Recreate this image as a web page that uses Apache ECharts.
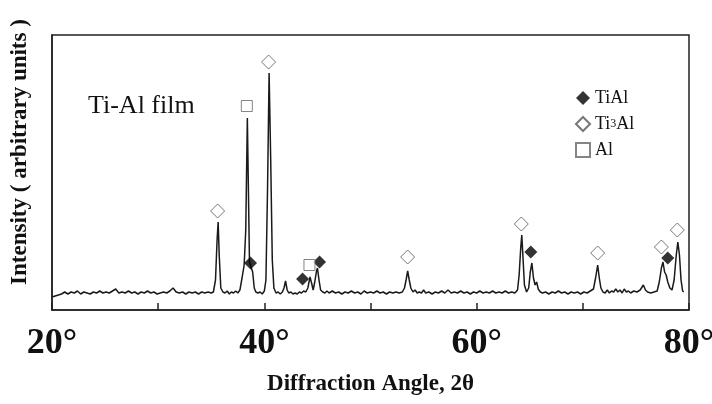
<!DOCTYPE html>
<html>
<head>
<meta charset="utf-8">
<title>Ti-Al film XRD</title>
<script src="https://cdn.jsdelivr.net/npm/echarts/dist/echarts.min.js"></script>
<style>
    html, body { margin: 0; padding: 0; background: #fff; }
    #xrdChart { width: 712px; height: 404px; }
</style>
</head>
<body>
<div id="xrdChart"></div>
<script>
// XRD scan: [2theta, intensity]
const scan = [
    [20.0, 13], [20.3, 14], [20.6, 15], [20.9, 16], [21.2, 18], [21.5, 16], [21.8, 18], [22.1, 17],
    [22.4, 19], [22.7, 16], [23.0, 18], [23.3, 17], [23.6, 16], [23.9, 18], [24.2, 17], [24.5, 19],
    [24.8, 17], [25.1, 18], [25.4, 17], [25.7, 19], [26.0, 21], [26.3, 17], [26.6, 18], [26.9, 17],
    [27.2, 19], [27.5, 17], [27.8, 18], [28.1, 16], [28.4, 18], [28.7, 17], [29.0, 19], [29.3, 17],
    [29.6, 18], [29.9, 16], [30.2, 17], [30.5, 18], [30.8, 17], [31.1, 19], [31.4, 22], [31.7, 18],
    [32.0, 17], [32.3, 18], [32.6, 16], [32.9, 18], [33.2, 17], [33.5, 18], [33.8, 16], [34.1, 18],
    [34.4, 17], [34.7, 18], [35.0, 17], [35.2, 18], [35.4, 30], [35.55, 70], [35.65, 88], [35.75, 55],
    [35.9, 22], [36.1, 18], [36.3, 17], [36.5, 19], [36.7, 16], [36.9, 18], [37.1, 17], [37.3, 19],
    [37.5, 17], [37.7, 20], [37.9, 32], [38.1, 45], [38.25, 80], [38.4, 192], [38.5, 120], [38.6, 48],
    [38.75, 46], [38.9, 38], [39.05, 22], [39.2, 18], [39.4, 17], [39.6, 18], [39.8, 16], [40.0, 19],
    [40.15, 30], [40.3, 120], [40.45, 237], [40.6, 150], [40.75, 50], [40.9, 22], [41.1, 17], [41.3, 18],
    [41.5, 16], [41.7, 18], [41.85, 22], [42.0, 29], [42.15, 20], [42.3, 17], [42.5, 18], [42.7, 16],
    [42.9, 17], [43.1, 16], [43.3, 18], [43.5, 17], [43.7, 19], [43.9, 18], [44.1, 22], [44.3, 33],
    [44.45, 27], [44.6, 20], [44.75, 28], [44.9, 38], [45.0, 42], [45.15, 30], [45.3, 20], [45.5, 18],
    [45.7, 17], [45.9, 19], [46.1, 17], [46.4, 19], [46.7, 17], [47.0, 18], [47.3, 16], [47.6, 18],
    [47.9, 17], [48.2, 19], [48.5, 17], [48.8, 18], [49.1, 16], [49.4, 19], [49.7, 17], [50.0, 18],
    [50.3, 17], [50.6, 19], [50.9, 17], [51.2, 18], [51.5, 16], [51.8, 18], [52.1, 17], [52.4, 18],
    [52.7, 17], [53.0, 18], [53.2, 22], [53.35, 30], [53.5, 39], [53.65, 30], [53.8, 22], [54.0, 18],
    [54.2, 20], [54.4, 17], [54.6, 18], [54.8, 17], [55.0, 20], [55.2, 17], [55.5, 18], [55.8, 16],
    [56.1, 18], [56.4, 17], [56.7, 19], [57.0, 17], [57.3, 20], [57.6, 17], [57.9, 18], [58.2, 17],
    [58.5, 19], [58.8, 17], [59.1, 18], [59.4, 16], [59.7, 18], [60.0, 17], [60.3, 19], [60.6, 17],
    [60.9, 18], [61.2, 17], [61.5, 19], [61.8, 17], [62.1, 18], [62.4, 17], [62.7, 19], [63.0, 17],
    [63.3, 18], [63.6, 17], [63.85, 20], [64.0, 35], [64.15, 62], [64.25, 75], [64.35, 55], [64.5, 25],
    [64.7, 18], [64.9, 22], [65.05, 38], [65.2, 47], [65.35, 32], [65.5, 25], [65.65, 28], [65.8, 21],
    [66.0, 18], [66.2, 17], [66.5, 18], [66.8, 16], [67.1, 18], [67.4, 17], [67.7, 19], [68.0, 17],
    [68.3, 18], [68.6, 16], [68.9, 18], [69.2, 17], [69.5, 18], [69.8, 16], [70.1, 18], [70.4, 17],
    [70.7, 19], [71.0, 21], [71.2, 32], [71.4, 45], [71.55, 32], [71.7, 22], [71.9, 18], [72.1, 17],
    [72.3, 20], [72.5, 17], [72.7, 19], [72.9, 18], [73.1, 21], [73.3, 18], [73.5, 20], [73.7, 17],
    [73.9, 21], [74.1, 18], [74.3, 19], [74.5, 17], [74.8, 19], [75.1, 18], [75.4, 20], [75.7, 25],
    [75.9, 20], [76.1, 18], [76.4, 17], [76.7, 18], [77.0, 19], [77.2, 28], [77.4, 42], [77.55, 48],
    [77.7, 38], [77.85, 35], [78.0, 28], [78.2, 22], [78.4, 20], [78.6, 30], [78.8, 55], [78.95, 68],
    [79.1, 55], [79.25, 30], [79.4, 19], [79.5, 18]
];

// phase markers: [2theta, height of the mark]
const tiAlMarks = [[38.7, 47], [43.6, 31], [45.2, 48], [65.1, 58], [78.0, 52]];
const ti3AlMarks = [[35.6, 99], [40.4, 248], [53.5, 53], [64.2, 86], [71.4, 57], [77.4, 63], [78.9, 80]];
const alMarks = [[38.35, 204], [44.25, 45]];

const phaseNames = ['TiAl', 'Ti3Al', 'Al'];
const xTicks = [20, 30, 40, 50, 60, 70, 80];

document.addEventListener('DOMContentLoaded', function () {
    initXrdChart();
});

function initXrdChart() {
    const chartDom = document.getElementById('xrdChart');
    if (!chartDom) return;

    const myChart = echarts.init(chartDom);
    const serif = 'Liberation Serif';

    const option = {
        backgroundColor: '#fff',
        animation: false,
        title: {
            text: 'Ti-Al film',
            left: 83,
            top: 88,
            textStyle: {
                fontFamily: serif,
                fontSize: 26,
                fontWeight: 'normal',
                color: '#111'
            }
        },
        grid: {
            left: 52,
            right: 23,
            top: 35,
            bottom: 94,
            outerBoundsMode: 'none',
            show: true,
            borderColor: '#222',
            borderWidth: 1.5
        },
        legend: {
            orient: 'vertical',
            left: 570,
            top: 84,
            itemWidth: 14,
            itemHeight: 14,
            itemGap: 8,
            data: phaseNames,
            formatter: function (name) {
                return name === 'Ti3Al' ? 'Ti{s|3}Al' : name;
            },
            textStyle: {
                fontFamily: serif,
                fontSize: 18,
                color: '#111',
                rich: {
                    s: { fontFamily: serif, fontSize: 12, color: '#111' }
                }
            }
        },
        xAxis: {
            type: 'value',
            min: xTicks[0],
            max: xTicks[xTicks.length - 1],
            interval: 10,
            name: 'Diffraction Angle, 2θ',
            nameLocation: 'middle',
            nameGap: 63,
            nameTextStyle: {
                fontFamily: serif,
                fontSize: 23,
                fontWeight: 'bold',
                color: '#111'
            },
            axisLine: { lineStyle: { color: '#222', width: 1.5 } },
            axisTick: { inside: true, length: 7, lineStyle: { color: '#222', width: 1.5 } },
            splitLine: { show: false },
            axisLabel: {
                margin: 16,
                fontFamily: serif,
                fontSize: 36,
                fontWeight: 'bold',
                color: '#111',
                formatter: function (v) {
                    return v % 20 === 0 ? v + '°' : '';
                }
            }
        },
        yAxis: {
            type: 'value',
            min: 0,
            max: 275,
            name: 'Intensity ( arbitrary units )',
            nameLocation: 'middle',
            nameGap: 20,
            nameTextStyle: {
                fontFamily: serif,
                fontSize: 23,
                fontWeight: 'bold',
                color: '#111',
                padding: [0, 0, 0, 41]
            },
            axisLine: { show: true, lineStyle: { color: '#222', width: 1.5 } },
            axisTick: { show: false },
            axisLabel: { show: false },
            splitLine: { show: false }
        },
        series: [
            {
                name: 'scan',
                type: 'line',
                data: scan,
                showSymbol: false,
                silent: true,
                lineStyle: { color: '#1a1a1a', width: 1.5 },
                z: 2
            },
            {
                name: 'TiAl',
                type: 'scatter',
                data: tiAlMarks,
                symbol: 'diamond',
                symbolSize: 13,
                itemStyle: { color: '#000' },
                z: 3
            },
            {
                name: 'Ti3Al',
                type: 'scatter',
                data: ti3AlMarks,
                symbol: 'diamond',
                symbolSize: 14,
                itemStyle: { color: '#fff', borderColor: '#555', borderWidth: 1 },
                z: 3
            },
            {
                name: 'Al',
                type: 'scatter',
                data: alMarks,
                symbol: 'rect',
                symbolSize: 11,
                itemStyle: { color: '#fff', borderColor: '#666', borderWidth: 1 },
                z: 3
            }
        ]
    };

    myChart.setOption(option);

    window.addEventListener('resize', function () {
        myChart.resize();
    });
}
</script>
</body>
</html>
